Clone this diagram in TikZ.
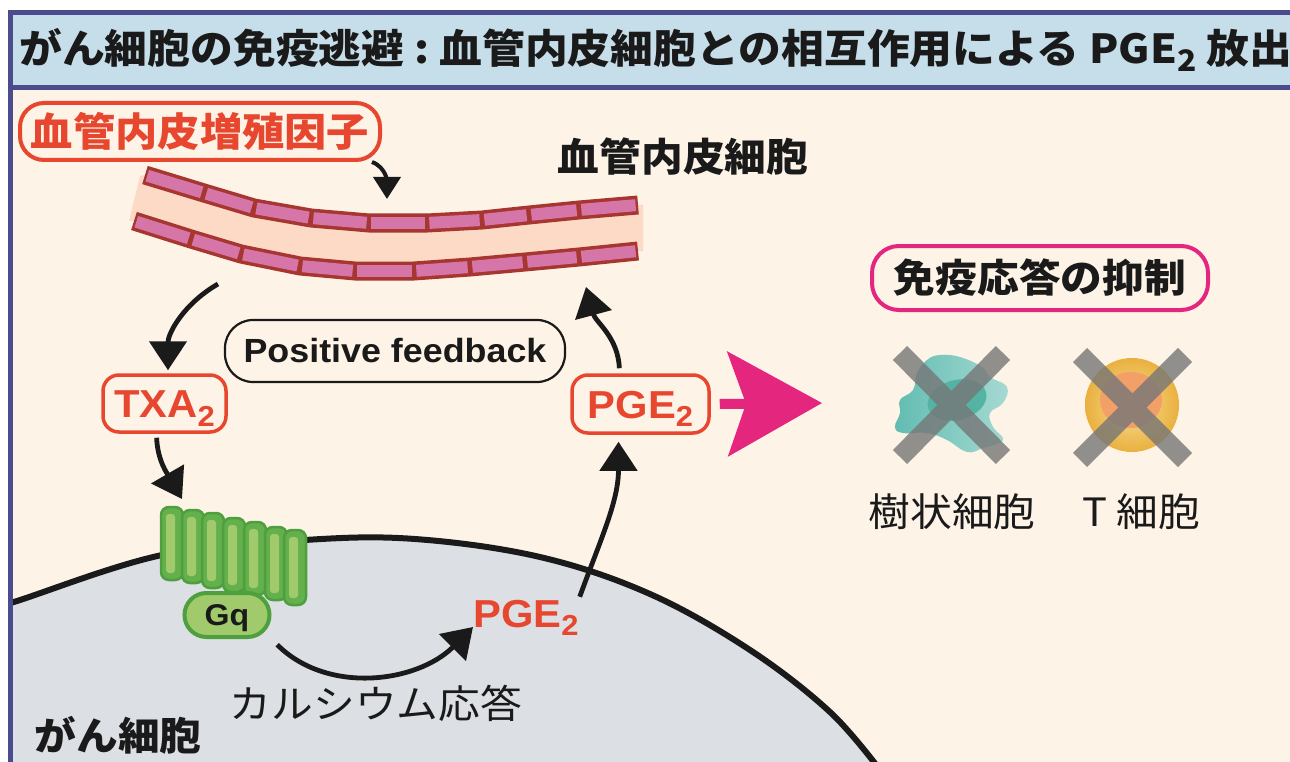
\documentclass[tikz,border=0pt]{standalone}
\usepackage{fontspec}
\usepackage{tikz}
\usetikzlibrary{arrows.meta, calc}
\setmainfont{Liberation Sans}
\newfontfamily\latinb[FakeStretch=1.07]{Liberation Sans}
\newfontfamily\jp[FakeStretch=1.07]{Noto Sans CJK JP}
\definecolor{framecol}{HTML}{4B4C8E}
\definecolor{titlebg}{HTML}{C6DEE9}
\definecolor{cream}{HTML}{FEF3E7}
\definecolor{ink}{HTML}{1A1A1A}
\definecolor{tagred}{HTML}{E8472F}
\definecolor{cellrim}{HTML}{A6362F}
\definecolor{cellpink}{HTML}{D676A8}
\definecolor{lumen}{HTML}{FDDAC5}
\definecolor{greendark}{HTML}{4E9F3D}
\definecolor{greenmid}{HTML}{63B04C}
\definecolor{greenlight}{HTML}{A0CA6B}
\definecolor{cytoplasm}{HTML}{DCDFE3}
\definecolor{hotpink}{HTML}{E4267F}
\definecolor{dcteal}{HTML}{62BCB1}
\definecolor{dclight}{HTML}{A6DAD3}
\definecolor{dcnuc}{HTML}{54B3A3}
\definecolor{tcedge}{HTML}{EAB03F}
\definecolor{tcin}{HTML}{F7E197}
\definecolor{tcnuc}{HTML}{F2A068}
\definecolor{xgray}{HTML}{767676}
\newcommand\subtwo{\raisebox{-0.22em}{\scalebox{0.74}{2}}}

\begin{document}
\begin{tikzpicture}[x=1pt, y=-1pt,
    molbox/.style={draw=tagred, line width=3.5pt, rounded corners=16pt, text=tagred,
      inner sep=0pt, text height=28pt, text depth=0pt,
      font={\fontsize{39}{40}\latinb\bfseries}},
    jplabel/.style={inner sep=0pt, text=ink, font={\fontsize{39}{40}\jp}},
    arr/.style={draw=ink, line width=4.8pt, -{Triangle[length=29pt, width=37pt]}},
    cellwall/.style={draw=cellrim, line width=19pt},
    cellbody/.style={draw=cellpink, line width=12pt, shorten <=2.4pt, shorten >=2.4pt},
    helix/.style={fill=greenmid, draw=greendark, line width=2.5pt, rounded corners=8pt},
    xmark/.style={draw=xgray, line width=20pt, opacity=0.8}]
  \useasboundingbox (0,0) rectangle (1290,762);

  % panel and title bar
  \fill[cream] (10,87.5) rectangle (1290,762);
  \fill[titlebg] (10,12.5) rectangle (1290,87.5);
  \node[anchor=west, inner sep=0pt, text=ink, font={\fontsize{40}{40}\jp\bfseries}] (title) at (19,50)
       {がん細胞の免疫逃避\hspace{0.25em}:\hspace{0.25em}血管内皮細胞との相互作用による PGE\subtwo\ 放出};

  % cancer cell
  \begin{scope}
    \clip (12.5,90) rectangle (1290,762);
    \draw[fill=cytoplasm, draw=ink, line width=6pt] plot[smooth, tension=0.6] coordinates
      {(-10,609) (17,601) (162,555) (305,540) (415,539) (540,557) (650,594) (750,650) (830,712) (880,770)}
      -- (880,800) -- (-10,800) -- cycle;
  \end{scope}

  % blood vessel: two rows of endothelial cells around the lumen
  \foreach \px/\py [count=\k from 0] in {145/175, 204/193, 254/208, 311/218, 369/223,
                                         427/223, 482/220, 529/215, 579/210, 638/205}
    \coordinate (t\k) at (\px,\py);
  \foreach \px/\py [count=\k from 0] in {134/221, 191/239, 241/254, 300/266, 355/271,
                                         414/271, 470/267, 525/262, 579/257, 638/251}
    \coordinate (b\k) at (\px,\py);
  \fill[lumen] (140,176) -- (t0) \foreach \k in {1,...,9}{ -- (t\k)} -- (643,205) -- (643,251)
       \foreach \k in {9,...,0}{ -- (b\k)} -- (129,221) -- cycle;
  \draw[cellwall] (t0) \foreach \k in {1,...,9}{ -- (t\k)};
  \draw[cellwall] (b0) \foreach \k in {1,...,9}{ -- (b\k)};
  \foreach \k [evaluate=\k as \n using int(\k+1)] in {0,...,8}{
    \draw[cellbody] (t\k) -- (t\n);
    \draw[cellbody] (b\k) -- (b\n);
  }
  \coordinate (vtop) at (387,199);
  \coordinate (vleft) at (218,284);
  \coordinate (vright) at (586,287);

  \node[draw=tagred, line width=4pt, rounded corners=24pt, minimum width=360pt, minimum height=57pt,
        inner sep=0pt, text=tagred, font={\fontsize{39.5}{40}\jp\bfseries}] (vegf) at (200,131.5) {血管内皮増殖因子};
  \node[jplabel, font={\fontsize{39}{40}\jp\bfseries}] (endo) at (683,157) {血管内皮細胞};

  % GPCR with seven helices and Gq
  \foreach \cx/\ty/\by in {172/507/580, 193/510/583, 213/513/588, 234/518/592,
                           255/522/595, 276/527/600, 295/530/605}{
    \draw[helix] (\cx-11,\ty) rectangle (\cx+11,\by);
    \fill[greenlight, rounded corners=3pt] (\cx-6,\ty+7) rectangle (\cx+3,\by-7);
  }
  \coordinate (rcpt) at (182,499);
  \node[draw=greendark, fill=greenlight, line width=4pt, rounded corners=22pt, minimum width=85pt,
        minimum height=44pt, inner sep=0pt, text height=21pt, text depth=0pt, text=ink,
        font={\fontsize{30}{30}\latinb\bfseries}] (gq) at (227,615) {Gq};

  % mediators
  \node[draw=ink, line width=2.2pt, rounded corners=28pt, minimum width=340pt, minimum height=62pt,
        inner sep=0pt, text=ink, font={\fontsize{33.5}{34}\latinb\bfseries}] (loop) at (395,351) {Positive feedback};
  \node[molbox, minimum width=123pt, minimum height=57pt] (txa) at (164.5,403.5) {TXA\subtwo};
  \node[molbox, minimum width=137pt, minimum height=58pt] (pgeb) at (640.5,404) {PGE\subtwo};
  \node[anchor=base west, inner sep=0pt, text=tagred, font={\fontsize{39}{40}\latinb\bfseries}] (pgec) at (473,627) {PGE\subtwo};
  \node[jplabel] (ca) at (376,703) {カルシウム応答};
  \node[jplabel, font={\fontsize{39}{40}\jp\bfseries}] (cancer) at (118,735) {がん細胞};

  % arrows of the loop
  \draw[arr, line width=4pt, -{Triangle[length=22pt, width=27pt]}] ([xshift=-10pt]vegf.south east)
       to[out=-20, in=90] (vtop);
  \draw[arr, shorten >=3pt] (vleft) to[out=210, in=90] ([xshift=3.5pt]txa.north);
  \draw[arr, shorten <=4pt] ([xshift=-8pt]txa.south) to[out=-88, in=120] (rcpt);
  \draw[arr, shorten <=8pt] (gq.south east) to[out=-45, in=-135] (pgec.base west);
  \draw[arr, shorten <=3pt, shorten >=7pt] (pgec.north east) to[out=70, in=-90] ([xshift=-22pt]pgeb.south);
  \draw[arr, shorten <=5pt] ([xshift=-21pt]pgeb.north) to[out=92, in=-75] (vright);

  % immune suppression
  \coordinate (supp) at (822,403);
  \draw[hotpink, line width=10pt, -{Stealth[length=94pt, width=104pt, inset=18pt]}]
       ([xshift=9pt]pgeb.east) -- (supp);
  \node[draw=hotpink, line width=4pt, rounded corners=27pt, minimum width=336pt, minimum height=64pt,
        inner sep=0pt, text=ink, font={\fontsize{39}{40}\jp\bfseries}] (immune) at (1040,278) {免疫応答の抑制};

  % dendritic cell
  \shade[left color=dcteal, right color=dclight] plot[smooth cycle, tension=0.7] coordinates
    {(927,360) (940,355) (960,357) (982,367) (990,377) (1007,387) (1003,403) (990,413) (993,427)
     (1003,440) (983,448) (967,452) (947,440) (927,433) (903,433) (895,427) (900,413) (900,400)
     (913,390) (917,373)};
  \fill[dcnuc, rotate around={15:(957,400)}] (957,400) ellipse (30 and 20);
  \draw[xmark] (900,353) -- (1003,457) (1003,353) -- (900,457);
  \node[jplabel] (dc) at (952,512) {樹状細胞};

  % T cell
  \shade[inner color=tcin, outer color=tcedge] (1132,405) circle (47);
  \fill[tcnuc] (1131,400) ellipse (31 and 28);
  \draw[xmark] (1080,355) -- (1185,460) (1185,355) -- (1080,460);
  \node[jplabel] (tc) at (1141,512) {T 細胞};

  % frame
  \draw[framecol, line width=5pt] (1295,12.5) -- (10,12.5) -- (10,770);
  \draw[framecol, line width=5pt] (10,87.5) -- (1295,87.5);
\end{tikzpicture}
\end{document}
